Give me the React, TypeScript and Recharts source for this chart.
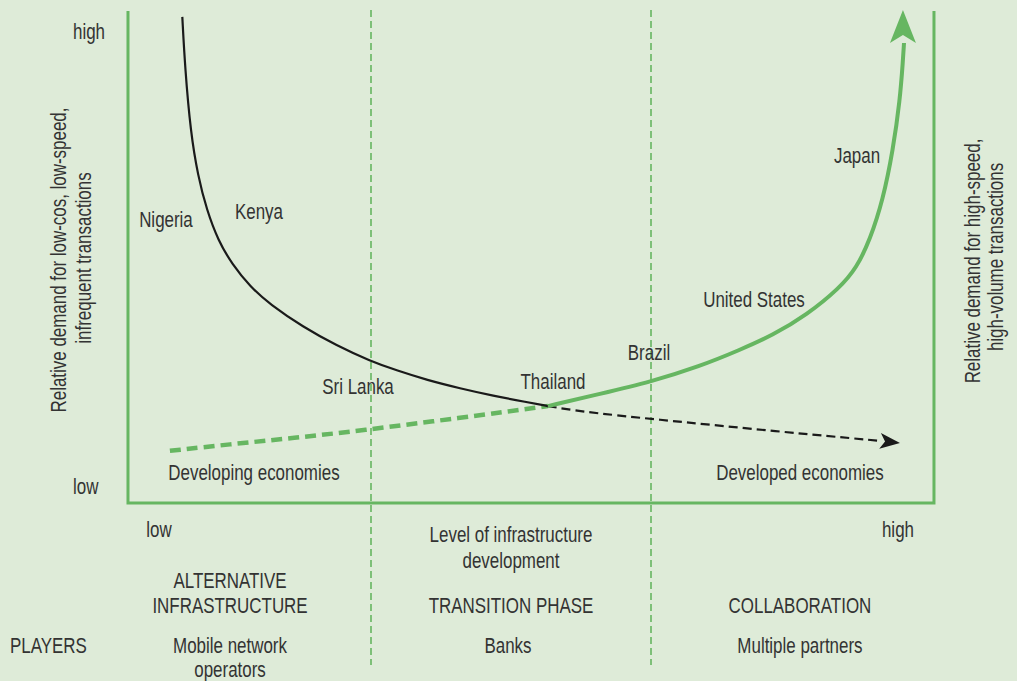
import { ComposedChart, Line, Scatter, XAxis, YAxis, ReferenceLine } from 'recharts'

const BG = '#deebd8'
const GREEN = '#66b661'
const INK = '#333333'
const FONT = '"Liberation Sans", Arial, sans-serif'

// both axes run 0..100 inside the green frame; the extra range holds the captions
const X_DOMAIN = [-15.88, 110.3]
const Y_DOMAIN = [-36.18, 102.24]

// demand for low-cost, low-speed transactions
const lowCostSolid = [
  { x: 6.74, y: 98.8 }, { x: 7.07, y: 88.6 }, { x: 7.78, y: 75.2 }, { x: 8.68, y: 66.5 },
  { x: 9.76, y: 59.6 }, { x: 11.2, y: 53.3 }, { x: 12.9, y: 48.6 }, { x: 15.14, y: 44.0 },
  { x: 17.6, y: 40.4 }, { x: 21.7, y: 35.8 }, { x: 25.9, y: 32.0 }, { x: 30.0, y: 28.9 },
  { x: 33.4, y: 26.9 }, { x: 37.1, y: 25.0 }, { x: 41.2, y: 23.3 }, { x: 45.3, y: 21.8 },
  { x: 49.5, y: 20.5 }, { x: 52.1, y: 19.7 },
]
const lowCostDashed = [
  { x: 52.1, y: 19.7 }, { x: 56.1, y: 18.6 }, { x: 64.8, y: 17.1 }, { x: 80.9, y: 14.5 },
  { x: 93.55, y: 12.6 },
]
const lowCostTip = [{ x: 95.78, y: 12.2 }]

// demand for high-speed, high-volume transactions
const highSpeedDashed = [
  { x: 5.2, y: 10.6 }, { x: 13.0, y: 12.0 }, { x: 20.5, y: 13.2 }, { x: 28.8, y: 14.7 },
  { x: 41.2, y: 17.3 }, { x: 52.1, y: 19.7 },
]
const highSpeedSolid = [
  { x: 52.1, y: 19.7 }, { x: 58.6, y: 22.2 }, { x: 64.8, y: 24.6 }, { x: 70.97, y: 27.8 },
  { x: 75.9, y: 31.1 }, { x: 80.0, y: 34.1 }, { x: 84.2, y: 38.2 }, { x: 88.3, y: 43.7 },
  { x: 90.4, y: 47.8 }, { x: 92.06, y: 53.5 }, { x: 93.67, y: 61.6 }, { x: 94.91, y: 71.7 },
  { x: 95.78, y: 81.9 }, { x: 96.15, y: 90.0 }, { x: 96.28, y: 93.5 },
]
const highSpeedTip = [{ x: 96.15, y: 100.2 }]

const frame = [{ x: 0, y: 100 }, { x: 0, y: 0 }, { x: 100, y: 0 }, { x: 100, y: 100 }]
const phaseBreaks = [30.15, 64.89]

const labels = [
  { text: 'high', x: -6.82, y: 96.0, anchor: 'start' },
  { text: 'low', x: -6.82, y: 3.5, anchor: 'start' },
  { text: 'Nigeria', x: 4.71, y: 57.7 },
  { text: 'Kenya', x: 16.25, y: 59.3 },
  { text: 'Sri Lanka', x: 28.54, y: 23.8 },
  { text: 'Thailand', x: 52.73, y: 24.8 },
  { text: 'Brazil', x: 64.64, y: 30.69 },
  { text: 'United States', x: 77.67, y: 41.46 },
  { text: 'Japan', x: 90.45, y: 70.73 },
  { text: 'Developing economies', x: 15.63, y: 6.3 },
  { text: 'Developed economies', x: 83.37, y: 6.3 },
  { text: 'low', x: 3.85, y: -5.28 },
  { text: 'high', x: 95.53, y: -5.28 },
  { text: 'Level of infrastructure', x: 47.52, y: -6.3 },
  { text: 'development', x: 47.52, y: -11.59 },
  { text: 'ALTERNATIVE', x: 12.66, y: -15.65 },
  { text: 'INFRASTRUCTURE', x: 12.66, y: -20.73 },
  { text: 'TRANSITION PHASE', x: 47.52, y: -20.73 },
  { text: 'COLLABORATION', x: 83.37, y: -20.73 },
  { text: 'PLAYERS', x: -14.64, y: -28.86, anchor: 'start' },
  { text: 'Mobile network', x: 12.66, y: -28.86 },
  { text: 'operators', x: 12.66, y: -33.74 },
  { text: 'Banks', x: 47.15, y: -28.86 },
  { text: 'Multiple partners', x: 83.37, y: -28.86 },
  { text: 'Relative demand for low-cos, low-speed,', x: -8.68, y: 49.39, rotate: -90 },
  { text: 'infrequent transactions', x: -5.58, y: 49.8, rotate: -90 },
  { text: 'Relative demand for high-speed,', x: 104.71, y: 49.19, rotate: -90 },
  { text: 'high-volume transactions', x: 107.57, y: 50.0, rotate: -90 },
]

// condensed look: regular sans squeezed horizontally
function LabelShape(p: any) {
  const d = p.payload
  return (
    <text
      x={0}
      y={0}
      textAnchor={d.anchor ?? 'middle'}
      dominantBaseline="central"
      fontFamily={FONT}
      fontSize={22}
      fill={INK}
      transform={`translate(${p.cx} ${p.cy}) rotate(${d.rotate ?? 0}) scale(0.77 1)`}
    >
      {d.text}
    </text>
  )
}

// notched arrowhead, tip at the point, pointing along `angle` (deg, 0 = right)
function arrow(len: number, half: number, notch: number, angle: number, color: string) {
  return (p: any) => (
    <polygon
      points={`0,0 ${-len},${-half} ${-len + notch},0 ${-len},${half}`}
      fill={color}
      transform={`translate(${p.cx} ${p.cy}) rotate(${angle})`}
    />
  )
}

export default function App() {
  return (
    <div style={{ position: 'absolute', left: 0, top: 0, width: 1017, height: 681, background: BG }}>
      <ComposedChart width={1017} height={681} margin={{ top: 0, right: 0, bottom: 0, left: 0 }}>
        <XAxis type="number" dataKey="x" domain={X_DOMAIN} allowDataOverflow hide />
        <YAxis type="number" dataKey="y" domain={Y_DOMAIN} allowDataOverflow hide />
        {phaseBreaks.map((x) => (
          <ReferenceLine
            key={x}
            segment={[{ x, y: 100.2 }, { x, y: -32.93 }]}
            stroke={GREEN}
            strokeWidth={1.6}
            strokeDasharray="7 4"
          />
        ))}
        <Line data={frame} dataKey="y" type="linear" stroke={GREEN} strokeWidth={3}
          dot={false} isAnimationActive={false} />
        <Line data={highSpeedDashed} dataKey="y" type="basis" stroke={GREEN} strokeWidth={4.5}
          strokeDasharray="11 6" dot={false} isAnimationActive={false} />
        <Line data={lowCostDashed} dataKey="y" type="basis" stroke="#1a1a1a" strokeWidth={2.2}
          strokeDasharray="9 5" dot={false} isAnimationActive={false} />
        <Line data={lowCostSolid} dataKey="y" type="basis" stroke="#1a1a1a" strokeWidth={2.2}
          dot={false} isAnimationActive={false} />
        <Line data={highSpeedSolid} dataKey="y" type="basis" stroke={GREEN} strokeWidth={4}
          dot={false} isAnimationActive={false} />
        <Scatter data={lowCostTip} shape={arrow(20, 8, 5, 6, '#1a1a1a')} isAnimationActive={false} />
        <Scatter data={highSpeedTip} shape={arrow(33, 13, 8, -90, GREEN)} isAnimationActive={false} />
        <Scatter data={labels} shape={LabelShape} isAnimationActive={false} />
      </ComposedChart>
    </div>
  )
}
